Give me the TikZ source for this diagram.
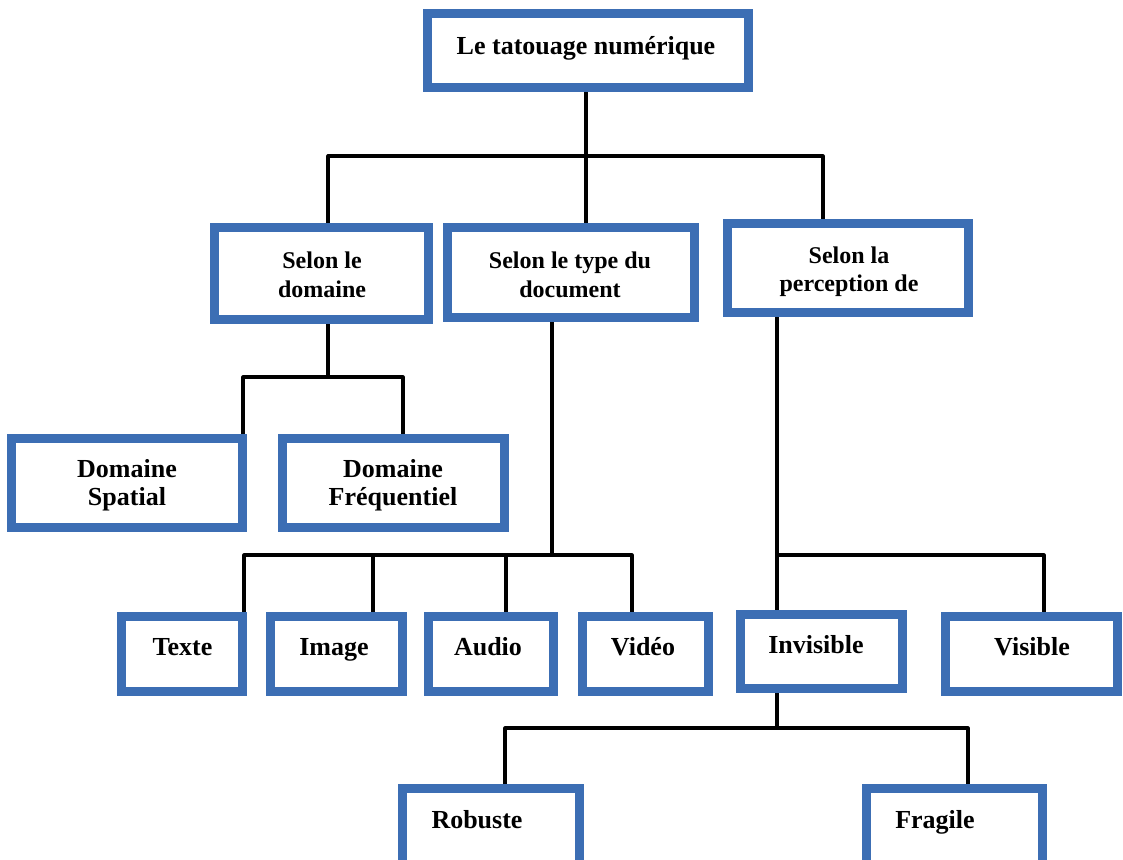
\documentclass[tikz,border=0pt]{standalone}
\usepackage{fontspec}
\setmainfont{Liberation Serif}
\definecolor{boxblue}{RGB}{60,110,180}
\begin{document}
\begin{tikzpicture}[x=1pt,y=-1pt,
  box/.style={draw=boxblue, line width=9pt, fill=white, inner sep=0pt},
  conn/.style={draw=black, line width=3.2pt, line join=round},
  lbl/.style={anchor=base, inner sep=0pt, font=\bfseries\fontsize{26}{28}\selectfont},
  lbls/.style={anchor=base, inner sep=0pt, font=\bfseries\fontsize{24}{28}\selectfont}]
\useasboundingbox[fill=white] (0,0) rectangle (1123,859);

% boxes
\node[box, minimum width=321pt, minimum height=74pt] (title) at (588,50.5) {};
\node[box, minimum width=214pt, minimum height=92pt] (dom) at (321.5,273.5) {};
\node[box, minimum width=247pt, minimum height=90pt] (type) at (571,272.5) {};
\node[box, minimum width=241pt, minimum height=89pt] (perc) at (848,268) {};
\node[box, minimum width=231pt, minimum height=89pt] (spat) at (127,483) {};
\node[box, minimum width=222pt, minimum height=89pt] (freq) at (393.5,483) {};
\node[box, minimum width=121pt, minimum height=75pt] (texte) at (182,654) {};
\node[box, minimum width=132pt, minimum height=75pt] (image) at (336.5,654) {};
\node[box, minimum width=125pt, minimum height=75pt] (audio) at (491,654) {};
\node[box, minimum width=126pt, minimum height=75pt] (video) at (645.5,654) {};
\node[box, minimum width=162pt, minimum height=74pt] (invis) at (821.5,651.5) {};
\node[box, minimum width=172pt, minimum height=75pt] (visib) at (1031.5,654) {};
\node[box, minimum width=177pt, minimum height=82pt] (robu) at (491,829.5) {};
\node[box, minimum width=176pt, minimum height=82pt] (frag) at (954.5,829.5) {};

% texts
\node[lbl] (ttitle) at (586,55) {Le tatouage numérique};
\node[lbls] (tdom1) at (322,268) {Selon le};
\node[lbls] (tdom2) at (322,297) {domaine};
\node[lbls] (ttype1) at (570,268) {Selon le type du};
\node[lbls] (ttype2) at (570,297) {document};
\node[lbls] (tperc1) at (849,263) {Selon la};
\node[lbls] (tperc2) at (849,291) {perception de};
\node[lbl] (tspat1) at (127,477) {Domaine};
\node[lbl] (tspat2) at (127,505) {Spatial};
\node[lbl] (tfreq1) at (393,477) {Domaine};
\node[lbl] (tfreq2) at (393,505) {Fréquentiel};
\node[lbl] (ttexte) at (182.5,655) {Texte};
\node[lbl] (timage) at (334,655) {Image};
\node[lbl] (taudio) at (488,655) {Audio};
\node[lbl] (tvideo) at (643,655) {Vidéo};
\node[lbl] (tinvis) at (816,653) {Invisible};
\node[lbl] (tvisib) at (1032,655) {Visible};
\node[lbl] (trobu) at (477,828) {Robuste};
\node[lbl] (tfrag) at (935,828) {Fragile};

% junction coordinates
\coordinate (j0) at (586,156);
\coordinate (j1) at (328,156);
\coordinate (j2) at (823,156);
\coordinate (k0) at (328,377);
\coordinate (k1) at (243,377);
\coordinate (k2) at (403,377);
\coordinate (m0) at (552,555);
\coordinate (m1) at (244,555);
\coordinate (m2) at (373,555);
\coordinate (m3) at (506,555);
\coordinate (m4) at (632,555);
\coordinate (p0) at (777,555);
\coordinate (p1) at (1044,555);
\coordinate (q0) at (777,728);
\coordinate (q1) at (505,728);
\coordinate (q2) at (968,728);

% connectors
\draw[conn] (j0 |- title.south) -- (j0 |- type.north);
\draw[conn] (j1 |- dom.north) -- (j1) -- (j2) -- (j2 |- perc.north);
\draw[conn] (k0 |- dom.south) -- (k0);
\draw[conn] (k1 |- spat.north) -- (k1) -- (k2) -- (k2 |- freq.north);
\draw[conn] (m0 |- type.south) -- (m0);
\draw[conn] (m1 |- texte.north) -- (m1) -- (m4) -- (m4 |- video.north);
\draw[conn] (m2) -- (m2 |- image.north);
\draw[conn] (m3) -- (m3 |- audio.north);
\draw[conn] (p0 |- perc.south) -- (p0 |- invis.north);
\draw[conn] (p0) -- (p1) -- (p1 |- visib.north);
\draw[conn] (q0 |- invis.south) -- (q0);
\draw[conn] (q1 |- robu.north) -- (q1) -- (q2) -- (q2 |- frag.north);
\end{tikzpicture}
\end{document}
